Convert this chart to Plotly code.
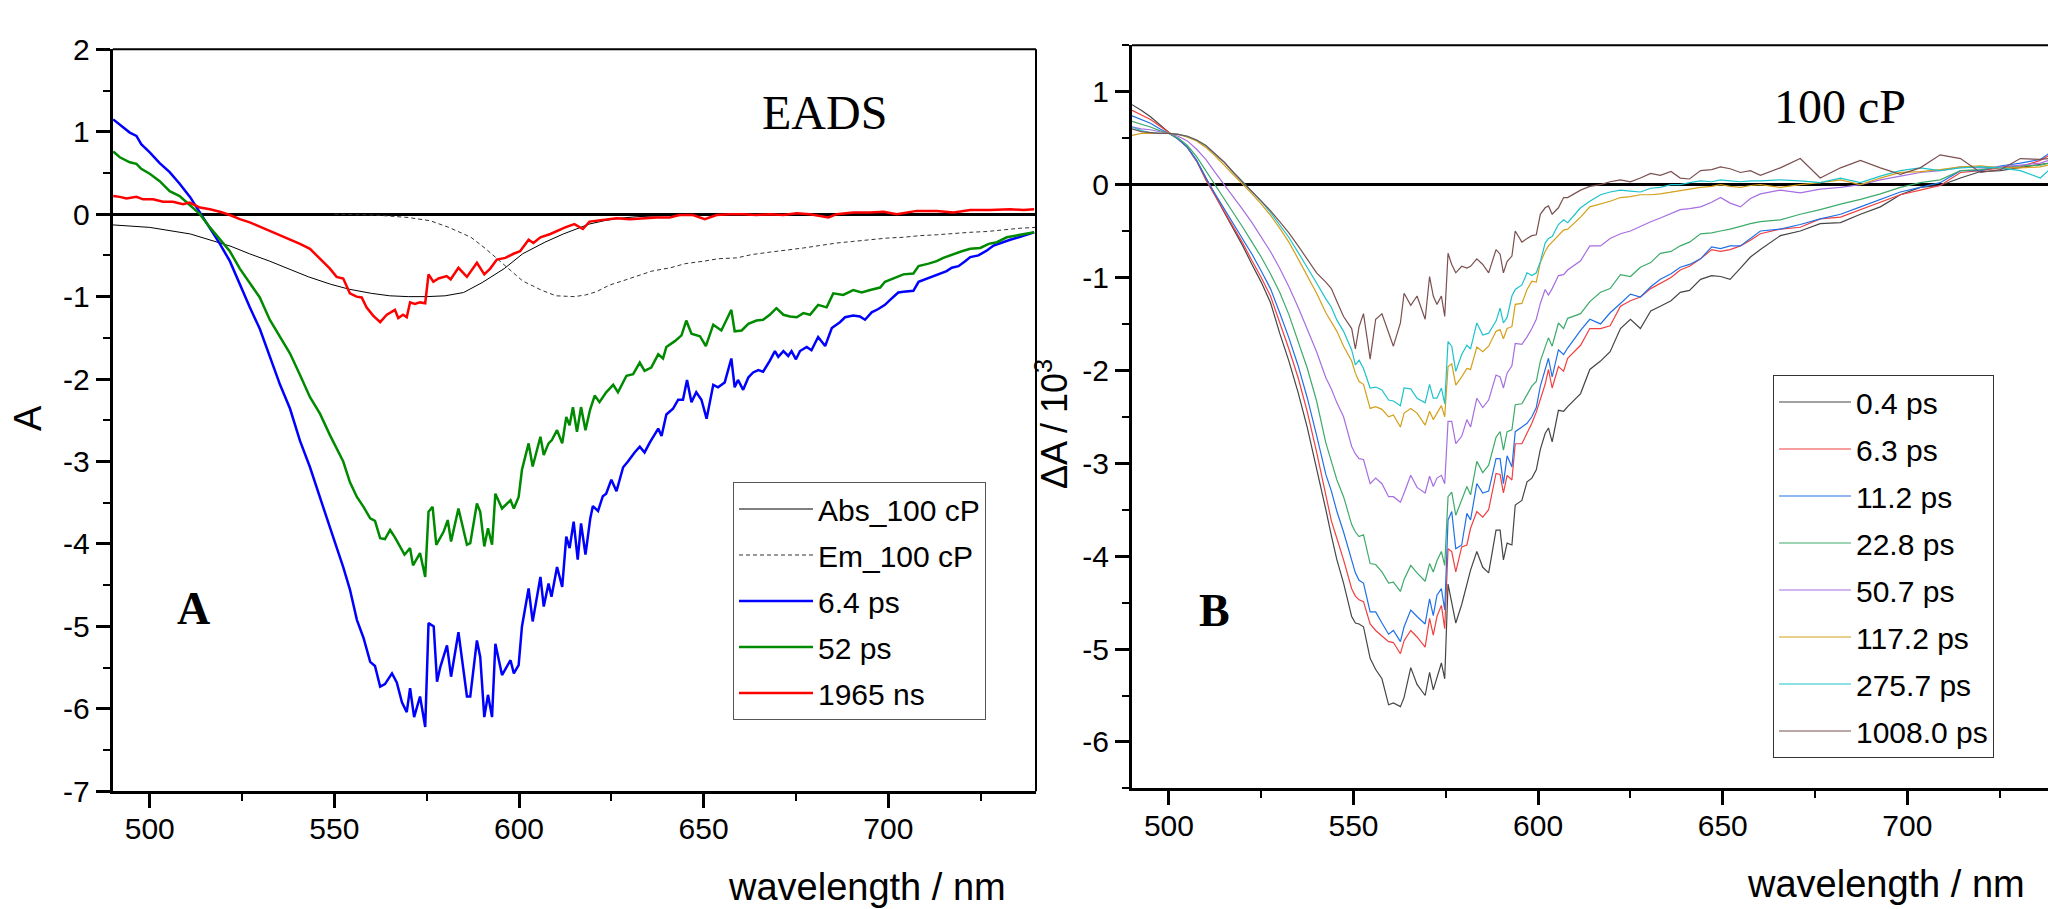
import plotly.graph_objects as go

# ---------------- Panel A (EADS) ----------------
abs_wl = [490, 500, 511, 516, 522, 527, 532.5, 538, 543, 549, 554, 560, 565, 570, 575, 580, 585, 590, 596,
          601, 607, 612, 619, 623, 627, 632, 636, 643, 650, 660, 680, 700, 720, 740]
abs_val = [-0.13, -0.16, -0.24, -0.31, -0.39, -0.48, -0.57, -0.67, -0.76, -0.85, -0.91, -0.96, -0.99, -1.0, -1.0,
           -0.99, -0.95, -0.83, -0.66, -0.48, -0.34, -0.24, -0.12, -0.08, -0.05, -0.03, -0.02, -0.01, 0, 0, 0, 0, 0, 0]

em_wl = [550, 561, 570, 576, 581, 587, 591, 596, 601, 606, 610, 615, 618, 621, 624.5, 628, 632, 636, 641, 645,
         650, 654, 659, 663, 668, 672, 677, 681.5, 686, 690.5, 695, 699.6, 704, 708.6, 713, 717.7, 722, 726.7,
         731, 735.8, 740]
em_val = [0, -0.01, -0.04, -0.08, -0.16, -0.28, -0.42, -0.61, -0.81, -0.92, -0.99, -1.0, -0.98, -0.94, -0.86,
          -0.81, -0.75, -0.69, -0.65, -0.60, -0.57, -0.54, -0.53, -0.49, -0.46, -0.44, -0.41, -0.38, -0.35, -0.33,
          -0.31, -0.29, -0.28, -0.26, -0.25, -0.23, -0.22, -0.21, -0.19, -0.17, -0.16]

ps64_wl = [490.1, 492.8, 494.6, 496.4, 497.7, 500.0, 502.7, 505.4, 508.1, 510.9, 513.6, 516.3, 519.0, 521.7,
           524.4, 527.1, 529.8, 532.5, 535.3, 538.0, 540.7, 543.4, 546.1, 548.8,
           552.4, 554.2, 556.1, 557.9, 559.7, 561.0, 562.4, 563.7, 565.6, 566.9, 568.3, 569.6, 570.5, 571.6,
           573.2, 574.6, 575.5, 576.9, 577.8, 578.7, 580.5, 581.6, 583.6, 585.9, 586.8, 588.6, 589.5, 590.6,
           591.6, 592.7, 593.6, 595.4, 597.7, 598.6, 599.9, 600.8, 602.6, 603.7, 605.8, 606.7, 608.0, 608.8,
           610.3, 611.7, 612.8, 613.7, 614.8, 615.9, 616.8, 618.0, 619.3,
           620.0, 621.4, 622.7, 623.6, 625.0, 626.4, 628.2, 629.5, 631.3, 632.7, 634.0, 635.4, 637.7, 638.6,
           639.9, 641.7, 643.1, 644.4, 645.5, 646.7, 648.0, 649.4, 650.8, 652.6, 653.9, 655.7, 657.5, 658.4,
           659.3, 660.7, 662.1, 663.4, 664.8, 666.1, 667.9, 669.3, 670.2, 671.6, 672.9, 673.8, 675.0, 676.1,
           677.9, 679.2, 681.0, 682.9, 684.7, 686.9, 688.3, 690.5, 692.3, 693.7, 695.5, 697.3, 699.1, 700.5,
           702.7, 704.1, 706.8, 708.2, 710.4, 713.1, 715.8, 717.2, 719.0, 720.8, 722.2, 724.4, 726.7, 728.5,
           730.8, 733.0, 735.3, 737.5, 739.5]
ps64_val = [1.15, 1.05, 0.99, 0.95, 0.85, 0.75, 0.62, 0.51, 0.37, 0.21, 0.02, -0.16, -0.36, -0.57,
            -0.86, -1.13, -1.39, -1.72, -2.07, -2.36, -2.75, -3.07, -3.45, -3.80,
            -4.28, -4.55, -4.92, -5.14, -5.43, -5.48, -5.73, -5.70, -5.57, -5.68, -5.92, -6.04, -5.75, -6.10,
            -5.85, -6.22, -4.96, -5.00, -5.67, -5.49, -5.23, -5.61, -5.07, -5.85, -5.85, -5.17, -5.37, -6.10,
            -5.83, -6.10, -5.21, -5.59, -5.41, -5.57, -5.47, -5.00, -4.54, -4.94, -4.40, -4.76, -4.48, -4.64,
            -4.28, -4.52, -3.91, -4.05, -3.73, -4.19, -3.75, -4.13, -3.69,
            -3.54, -3.60, -3.42, -3.39, -3.22, -3.36, -3.07, -3.00, -2.89, -2.82, -2.89, -2.77, -2.60, -2.69,
            -2.43, -2.36, -2.25, -2.25, -2.01, -2.28, -2.16, -2.25, -2.48, -2.07, -2.10, -2.04, -1.75, -2.10,
            -2.01, -2.13, -1.98, -1.92, -1.89, -1.91, -1.78, -1.66, -1.73, -1.66, -1.72, -1.66, -1.76, -1.66,
            -1.61, -1.65, -1.49, -1.60, -1.38, -1.31, -1.25, -1.23, -1.24, -1.28, -1.19, -1.15, -1.10, -1.04,
            -0.95, -0.94, -0.93, -0.82, -0.78, -0.73, -0.69, -0.65, -0.63, -0.57, -0.52, -0.50, -0.44, -0.38,
            -0.34, -0.31, -0.28, -0.25, -0.22]

ps52_wl = [490.1, 491.9, 494.6, 496.4, 497.7, 500.0, 502.7, 505.4, 508.1, 510.9, 513.6, 516.3, 519.0, 521.7,
           524.4, 527.1, 529.8, 532.5, 535.3, 538.0, 540.7, 543.4, 546.1, 548.8,
           552.4, 554.2, 556.1, 557.9, 559.7, 561.0, 562.4, 563.7, 565.1, 566.4, 569.0, 570.5, 571.3, 573.2,
           574.6, 575.5, 576.6, 577.6, 579.6, 580.7, 581.6, 583.6, 585.9, 586.8, 588.6, 589.5, 590.6, 591.6,
           592.7, 593.6, 595.4, 597.7, 598.6, 599.9, 600.8, 602.6, 603.7, 605.8, 606.7, 608.0, 608.9, 610.3,
           611.7, 612.8, 613.7, 614.6, 615.7, 616.8, 618.0, 619.2,
           620.5, 621.8, 623.6, 625.5, 626.8, 629.1, 630.9, 632.7, 634.0, 635.8, 637.7, 639.0, 639.9, 642.2,
           644.0, 645.3, 646.7, 649.0, 650.6, 652.6, 654.8, 656.2, 657.5, 658.4, 660.3, 662.1, 664.3, 666.1,
           667.9, 669.7, 671.6, 673.4, 675.2, 677.0, 678.8, 681.0, 683.3, 685.1, 687.8, 690.5, 692.8, 695.1,
           697.8, 699.1, 701.4, 704.1, 706.8, 708.2, 710.9, 713.1, 714.9, 717.7, 719.9, 722.2, 724.9, 727.2,
           729.4, 732.1, 734.8, 737.5, 739.5]
ps52_val = [0.76, 0.69, 0.63, 0.61, 0.55, 0.49, 0.40, 0.28, 0.22, 0.11, 0.00, -0.16, -0.31, -0.45,
            -0.66, -0.83, -1.01, -1.28, -1.48, -1.69, -1.95, -2.22, -2.42, -2.68,
            -3.00, -3.25, -3.43, -3.55, -3.69, -3.72, -3.93, -3.94, -3.83, -3.92, -4.13, -4.05, -4.26, -4.11,
            -4.40, -3.61, -3.55, -4.01, -3.85, -3.71, -3.97, -3.57, -4.01, -3.99, -3.51, -3.61, -4.03, -3.81,
            -4.01, -3.39, -3.57, -3.47, -3.57, -3.43, -3.10, -2.78, -3.06, -2.70, -2.92, -2.78, -2.74, -2.62,
            -2.78, -2.46, -2.56, -2.34, -2.64, -2.34, -2.62, -2.38,
            -2.20, -2.28, -2.16, -2.07, -2.16, -1.96, -1.94, -1.80, -1.90, -1.86, -1.70, -1.75, -1.61, -1.54,
            -1.47, -1.29, -1.45, -1.48, -1.60, -1.34, -1.41, -1.28, -1.16, -1.42, -1.41, -1.33, -1.29, -1.28,
            -1.22, -1.14, -1.22, -1.24, -1.25, -1.20, -1.22, -1.10, -1.13, -0.96, -0.98, -0.92, -0.95, -0.92,
            -0.89, -0.82, -0.78, -0.73, -0.72, -0.63, -0.60, -0.57, -0.53, -0.48, -0.45, -0.42, -0.41, -0.36,
            -0.34, -0.28, -0.26, -0.24, -0.22]

ns1965_wl = [490.1, 491.9, 493.7, 496.4, 498.2, 500.9, 503.6, 506.3, 509.0, 510.8, 513.6, 516.3, 519.0, 521.7,
             524.4, 527.1, 529.8, 532.5, 535.3, 538.0, 540.7, 543.4, 546.1, 548.8, 550.6, 552.4, 554.2, 556.0,
             557.4, 558.7, 560.5, 562.4, 564.2, 566.4, 567.3, 568.6, 569.6, 570.5, 571.8, 573.2, 574.6, 575.5,
             576.8, 578.2, 580.4, 581.5, 583.6, 585.9, 588.6, 590.6, 592.2, 594.0, 596.3, 598.5, 600.3, 602.6,
             603.9, 605.8, 608.5, 610.3, 612.5, 615.0, 617.3, 619.1, 622.7, 626.4, 630.0, 633.6, 637.2, 640.8,
             643.5, 647.1, 650.3, 653.5, 657.1, 660.7, 664.3, 667.9, 671.6, 675.2, 678.8, 683.8, 686.0, 690.5,
             695.1, 698.7, 702.3, 707.7, 713.1, 717.7, 722.2, 727.6, 733.0, 736.6, 739.5]
ns1965_val = [0.22, 0.21, 0.19, 0.21, 0.18, 0.18, 0.15, 0.15, 0.12, 0.14, 0.08, 0.06, 0.03, -0.01,
              -0.06, -0.10, -0.15, -0.20, -0.26, -0.31, -0.36, -0.42, -0.54, -0.66, -0.76, -0.78, -0.96, -1.00,
              -1.01, -1.13, -1.23, -1.31, -1.22, -1.16, -1.26, -1.22, -1.25, -1.07, -1.09, -1.07, -1.08, -0.73,
              -0.82, -0.78, -0.75, -0.79, -0.65, -0.76, -0.59, -0.73, -0.66, -0.55, -0.53, -0.48, -0.45, -0.31,
              -0.35, -0.28, -0.24, -0.20, -0.16, -0.12, -0.18, -0.09, -0.07, -0.05, -0.06, -0.05, -0.04, -0.04,
              -0.01, -0.01, -0.06, -0.01, 0.00, 0.00, -0.01, 0.00, -0.01, 0.01, 0.00, -0.04, 0.00, 0.02,
              0.02, 0.03, 0.00, 0.04, 0.04, 0.02, 0.05, 0.05, 0.06, 0.05, 0.06]

# ---------------- Panel B (100 cP) ----------------
wl_b = [490, 492.5, 495, 497.5, 500, 502.5, 505, 507.5, 510, 512.5, 515, 517.5, 520, 522.5, 525, 527.5, 530,
        532.5, 535, 537.5, 540, 542.5,
        544, 545.5, 547.3, 549.5, 550.5, 551.5, 552.7, 554.5, 556, 557.7, 559.5, 560.8, 562.7, 563.7, 565.5,
        567.2, 569.4, 570.6, 571.6, 572.6, 573.8, 574.7, 575.6, 576.6, 577.7, 579.3, 580.7, 581.7, 583.4, 585,
        586.6, 588.6, 589.7, 590.6, 591.6, 592.9, 593.8, 595.6, 597, 598.3, 599.5, 600.6, 601.9, 602.8, 603.8,
        605.5, 606.9, 608,
        611.5, 614, 616.9, 619.5, 622.3, 625, 627.7, 630.5, 633.1, 636, 638.5, 641, 644, 647, 649.4, 652, 654.8,
        657.5, 660.2, 665.6, 671, 676.4, 681.9, 687.3, 692.7, 698.1, 703.5, 708.9, 714.4, 719.8, 725.2, 730.6,
        736, 738.2]

t_0p4 = [0.86, 0.80, 0.73, 0.64, 0.56, 0.49, 0.40, 0.26, 0.07, -0.12, -0.30, -0.48, -0.66, -0.86, -1.05, -1.27,
         -1.60, -1.90, -2.24, -2.62, -3.05, -3.50,
         -3.78, -4.04, -4.29, -4.65, -4.72, -4.73, -4.76, -5.10, -5.22, -5.32, -5.60, -5.58, -5.62, -5.52, -5.20,
         -5.38, -5.50, -5.25, -5.44, -5.30, -5.15, -5.32, -4.30, -4.50, -4.72, -4.52, -4.29, -4.15, -3.95, -4.12,
         -4.18, -3.72, -3.72, -4.04, -3.86, -3.88, -3.45, -3.40, -3.20, -3.16, -3.07, -2.85, -2.68, -2.62, -2.77,
         -2.43, -2.44, -2.39,
         -2.25, -1.99, -1.90, -1.80, -1.55, -1.45, -1.55, -1.36, -1.31, -1.25, -1.16, -1.14, -1.02, -0.98, -0.99,
         -1.02, -0.90, -0.78, -0.70, -0.55, -0.50, -0.42, -0.41, -0.32, -0.24, -0.11, -0.03, -0.01, 0.07, 0.14,
         0.15, 0.18, 0.21, 0.23]
t_6p3 = [0.80, 0.75, 0.70, 0.63, 0.56, 0.49, 0.40, 0.25, 0.05, -0.12, -0.29, -0.46, -0.63, -0.82, -1.00, -1.20,
         -1.48, -1.77, -2.08, -2.45, -2.88, -3.35,
         -3.62, -3.81, -4.04, -4.35, -4.43, -4.47, -4.49, -4.73, -4.80, -4.86, -4.92, -4.93, -5.05, -4.91, -4.80,
         -4.87, -4.98, -4.67, -4.85, -4.65, -4.53, -4.78, -3.92, -3.95, -4.17, -3.90, -3.88, -3.70, -3.52, -3.58,
         -3.50, -3.11, -3.12, -3.32, -3.13, -3.18, -2.79, -2.79, -2.68, -2.57, -2.45, -2.32, -2.15, -1.99, -2.19,
         -1.96, -2.01, -1.87,
         -1.73, -1.55, -1.55, -1.52, -1.31, -1.25, -1.21, -1.12, -1.06, -1.00, -0.92, -0.88, -0.80, -0.70, -0.72,
         -0.70, -0.66, -0.60, -0.53, -0.48, -0.46, -0.37, -0.35, -0.27, -0.19, -0.11, -0.06, -0.01, 0.13, 0.15,
         0.18, 0.19, 0.26, 0.31]
t_11p2 = [0.74, 0.70, 0.66, 0.60, 0.55, 0.49, 0.40, 0.26, 0.07, -0.10, -0.26, -0.42, -0.58, -0.75, -0.93, -1.12,
          -1.38, -1.65, -1.95, -2.30, -2.70, -3.12,
          -3.30, -3.52, -3.74, -4.06, -4.18, -4.26, -4.29, -4.60, -4.60, -4.72, -4.84, -4.80, -4.92, -4.76, -4.58,
          -4.65, -4.73, -4.46, -4.64, -4.42, -4.35, -4.58, -3.61, -3.52, -3.92, -3.88, -3.54, -3.61, -3.22, -3.32,
          -3.30, -2.95, -2.95, -3.22, -2.92, -3.04, -2.66, -2.61, -2.57, -2.50, -2.40, -2.17, -2.00, -1.87, -2.07,
          -1.78, -1.83, -1.76,
          -1.57, -1.45, -1.50, -1.38, -1.28, -1.18, -1.21, -1.10, -1.02, -0.96, -0.89, -0.86, -0.80, -0.67, -0.69,
          -0.66, -0.66, -0.58, -0.50, -0.48, -0.43, -0.37, -0.32, -0.24, -0.16, -0.08, -0.03, 0.02, 0.15, 0.15,
          0.20, 0.23, 0.27, 0.33]
t_22p8 = [0.68, 0.65, 0.62, 0.58, 0.55, 0.50, 0.42, 0.30, 0.15, -0.01, -0.16, -0.31, -0.46, -0.62, -0.78, -0.96,
          -1.16, -1.40, -1.68, -1.98, -2.33, -2.78,
          -2.98, -3.18, -3.36, -3.66, -3.74, -3.79, -3.77, -4.08, -4.09, -4.17, -4.29, -4.28, -4.38, -4.25, -4.10,
          -4.18, -4.27, -4.08, -4.17, -4.05, -3.95, -4.10, -3.36, -3.31, -3.56, -3.40, -3.25, -3.34, -2.98, -3.10,
          -3.02, -2.72, -2.66, -2.86, -2.66, -2.64, -2.37, -2.36, -2.26, -2.17, -2.12, -1.90, -1.75, -1.65, -1.74,
          -1.49, -1.55, -1.44,
          -1.39, -1.26, -1.16, -1.12, -0.97, -0.99, -0.89, -0.84, -0.74, -0.72, -0.66, -0.62, -0.53, -0.52, -0.50,
          -0.48, -0.45, -0.42, -0.40, -0.38, -0.32, -0.27, -0.21, -0.16, -0.10, -0.03, 0.02, 0.05, 0.15, 0.16,
          0.19, 0.20, 0.21, 0.23]
t_50p7 = [0.62, 0.60, 0.59, 0.57, 0.55, 0.52, 0.47, 0.38, 0.27, 0.13, 0.00, -0.13, -0.27, -0.41, -0.56, -0.72,
          -0.90, -1.10, -1.32, -1.55, -1.80, -2.08,
          -2.20, -2.35, -2.50, -2.82, -2.90, -2.95, -2.96, -3.22, -3.16, -3.22, -3.36, -3.36, -3.42, -3.32, -3.13,
          -3.26, -3.32, -3.14, -3.25, -3.16, -3.13, -3.22, -2.55, -2.55, -2.79, -2.71, -2.53, -2.61, -2.30, -2.40,
          -2.32, -2.05, -2.07, -2.19, -2.03, -1.95, -1.71, -1.72, -1.64, -1.55, -1.45, -1.28, -1.13, -1.19, -1.12,
          -0.98, -0.97, -0.92,
          -0.82, -0.66, -0.66, -0.58, -0.53, -0.50, -0.45, -0.40, -0.36, -0.31, -0.27, -0.26, -0.24, -0.19, -0.14,
          -0.20, -0.24, -0.15, -0.10, -0.06, -0.09, -0.05, -0.03, 0.00, 0.05, 0.09, 0.13, 0.15, 0.19, 0.18,
          0.19, 0.21, 0.23, 0.26]
t_117p2 = [0.53, 0.55, 0.55, 0.55, 0.55, 0.54, 0.51, 0.47, 0.40, 0.31, 0.21, 0.10, 0.00, -0.10, -0.21, -0.33,
           -0.47, -0.62, -0.80, -0.98, -1.17, -1.38,
           -1.48, -1.58, -1.74, -1.90, -2.03, -2.12, -2.15, -2.41, -2.39, -2.42, -2.50, -2.48, -2.61, -2.46, -2.41,
           -2.46, -2.59, -2.44, -2.53, -2.46, -2.38, -2.50, -1.96, -1.93, -2.16, -2.07, -1.98, -1.99, -1.75, -1.80,
           -1.74, -1.58, -1.56, -1.66, -1.55, -1.53, -1.29, -1.28, -1.13, -1.04, -1.05, -0.84, -0.72, -0.66, -0.62,
           -0.55, -0.49, -0.48,
           -0.35, -0.24, -0.21, -0.18, -0.14, -0.13, -0.11, -0.11, -0.10, -0.08, -0.06, -0.05, -0.03, -0.02, 0.00,
           -0.02, -0.03, -0.01, 0.00, -0.03, 0.00, 0.02, 0.05, 0.00, 0.07, 0.13, 0.14, 0.16, 0.19, 0.20,
           0.18, 0.18, 0.19, 0.21]
t_275p7 = [0.62, 0.58, 0.56, 0.55, 0.55, 0.54, 0.52, 0.48, 0.42, 0.33, 0.24, 0.13, 0.03, -0.07, -0.18, -0.30,
           -0.43, -0.57, -0.73, -0.89, -1.06, -1.23,
           -1.32, -1.46, -1.58, -1.78, -1.94, -1.89, -1.98, -2.19, -2.18, -2.21, -2.32, -2.33, -2.38, -2.19, -2.20,
           -2.30, -2.35, -2.15, -2.30, -2.30, -2.19, -2.36, -1.69, -1.74, -2.01, -1.83, -1.73, -1.77, -1.49, -1.62,
           -1.60, -1.47, -1.33, -1.49, -1.43, -1.20, -1.13, -1.08, -0.95, -0.98, -0.95, -0.83, -0.63, -0.58, -0.56,
           -0.43, -0.38, -0.41,
           -0.25, -0.18, -0.11, -0.08, -0.06, -0.07, -0.08, -0.04, -0.03, 0.00, 0.00, 0.02, 0.04, 0.03, 0.05,
           0.04, 0.03, 0.04, 0.04, 0.05, 0.04, 0.02, 0.07, 0.02, 0.09, 0.15, 0.18, 0.15, 0.18, 0.19,
           0.18, 0.15, 0.07, 0.15]
t_1008 = [0.60, 0.57, 0.56, 0.55, 0.55, 0.54, 0.52, 0.48, 0.42, 0.33, 0.24, 0.13, 0.03, -0.07, -0.17, -0.28,
          -0.40, -0.52, -0.66, -0.80, -0.95, -1.05,
          -1.12, -1.26, -1.42, -1.55, -1.77, -1.53, -1.39, -1.88, -1.45, -1.39, -1.60, -1.74, -1.49, -1.17, -1.30,
          -1.20, -1.45, -0.99, -1.20, -1.29, -1.20, -1.42, -0.74, -0.86, -0.95, -0.88, -0.90, -0.88, -0.80, -0.86,
          -0.95, -0.70, -0.75, -0.95, -0.83, -0.77, -0.50, -0.62, -0.58, -0.55, -0.54, -0.32, -0.25, -0.23, -0.32,
          -0.25, -0.14, -0.14,
          -0.06, -0.02, 0.00, 0.03, 0.05, 0.03, 0.07, 0.12, 0.10, 0.14, 0.07, 0.06, 0.15, 0.16, 0.19,
          0.17, 0.13, 0.15, 0.10, 0.18, 0.28, 0.07, 0.18, 0.26, 0.18, 0.11, 0.18, 0.32, 0.28, 0.13,
          0.16, 0.28, 0.27, 0.28]

names_b = ["0.4 ps", "6.3 ps", "11.2 ps", "22.8 ps", "50.7 ps", "117.2 ps", "275.7 ps", "1008.0 ps"]
colors_b = ["#454545", "#F23F3F", "#2070E8", "#3DAA6A", "#A66EE0", "#D4A01A", "#1CC3CC", "#7B5050"]
series_b = [t_0p4, t_6p3, t_11p2, t_22p8, t_50p7, t_117p2, t_275p7, t_1008]

# tick labels
xtick_vals = [500, 550, 600, 650, 700]
xtick_text = ["500", "550", "600", "650", "700"]
ya_vals = [2, 1, 0, -1, -2, -3, -4, -5, -6, -7]
ya_text = ["2", "1", "0", "-1", "-2", "-3", "-4", "-5", "-6", "-7"]
yb_vals = [1, 0, -1, -2, -3, -4, -5, -6]
yb_text = ["1", "0", "-1", "-2", "-3", "-4", "-5", "-6"]

for s in series_b:
    assert len(s) == len(wl_b), len(s)
assert len(ps64_wl) == len(ps64_val)
assert len(ps52_wl) == len(ps52_val)
assert len(ns1965_wl) == len(ns1965_val)
assert len(abs_wl) == len(abs_val)
assert len(em_wl) == len(em_val)

SANS = "Liberation Sans, Arial, sans-serif"
SERIF = "Liberation Serif, Times New Roman, serif"

fig = go.Figure()
left_traces = [
    ("Abs_100 cP", abs_wl, abs_val, dict(color="black", width=1)),
    ("Em_100 cP", em_wl, em_val, dict(color="#333333", width=1, dash="4px,3px")),
    ("6.4 ps", ps64_wl, ps64_val, dict(color="#0000FF", width=2.5)),
    ("52 ps", ps52_wl, ps52_val, dict(color="#008A00", width=2.5)),
    ("1965 ns", ns1965_wl, ns1965_val, dict(color="#FF0000", width=2.5)),
]
for nm, xs, ys, ln in left_traces:
    fig.add_trace(go.Scatter(x=xs, y=ys, mode="lines", name=nm, line=ln, xaxis="x", yaxis="y",
                             legend="legend", legendgroup="A_" + nm))

for nm, col, vals in zip(names_b, colors_b, series_b):
    fig.add_trace(go.Scatter(x=wl_b, y=vals, mode="lines", name=nm,
                             line=dict(color=col, width=1.2), xaxis="x2", yaxis="y2", legend="legend2",
                             legendgroup="B_" + nm))

W, H = 2048, 909
axis_common = dict(showline=True, linecolor="black", linewidth=3, ticks="outside", ticklen=14,
                   tickwidth=2.5, tickcolor="black", showgrid=False, automargin=False,
                   tickfont=dict(family=SANS, size=30, color="black"))
minor_x = dict(dtick=25, tick0=500, ticklen=7, tickwidth=2, ticks="outside", tickcolor="black")
minor_y = dict(dtick=0.5, tick0=0, ticklen=7, tickwidth=2, ticks="outside", tickcolor="black")

fig.update_layout(
    width=W, height=H,
    margin=dict(l=0, r=0, t=0, b=0, pad=0, autoexpand=False),
    paper_bgcolor="white", plot_bgcolor="white",
    showlegend=True,
    xaxis=dict(domain=[112.8 / W, 1036 / W], range=[490, 740], anchor="y", zeroline=False,
               tickmode="array", tickvals=xtick_vals, ticktext=xtick_text, minor=minor_x,
               ticklabelstandoff=-5, **axis_common),
    yaxis=dict(domain=[1 - 791.3 / H, 1 - 49.3 / H], range=[-7, 2], anchor="x",
               zeroline=True, zerolinecolor="black", zerolinewidth=3,
               tickmode="array", tickvals=ya_vals, ticktext=ya_text, minor=minor_y, **axis_common),
    xaxis2=dict(domain=[1132 / W, 1.0], range=[490, 738.1], anchor="y2", zeroline=False,
                tickmode="array", tickvals=xtick_vals, ticktext=xtick_text, minor=minor_x,
                ticklabelstandoff=-5, **axis_common),
    yaxis2=dict(domain=[1 - 788.4 / H, 1 - 45.2 / H], range=[-6.5, 1.5], anchor="x2",
                zeroline=True, zerolinecolor="black", zerolinewidth=3,
                tickmode="array", tickvals=yb_vals, ticktext=yb_text, minor=minor_y, **axis_common),
    legend=dict(x=733 / W, y=1 - 482 / H, xanchor="left", yanchor="top",
                bgcolor="white", bordercolor="#555555", borderwidth=1,
                font=dict(family=SANS, size=30, color="black"), itemwidth=74, tracegroupgap=4,
                traceorder="grouped"),
    legend2=dict(x=1773 / W, y=1 - 375 / H, xanchor="left", yanchor="top",
                 bgcolor="white", bordercolor="#333333", borderwidth=1,
                 font=dict(family=SANS, size=30, color="black"), itemwidth=72, tracegroupgap=5,
                 traceorder="grouped"),
    shapes=[
        dict(type="line", xref="x domain", yref="y domain", x0=0, x1=1, y0=1, y1=1,
             line=dict(color="black", width=2)),
        dict(type="line", xref="x domain", yref="y domain", x0=1, x1=1, y0=0, y1=1,
             line=dict(color="black", width=2)),
        dict(type="line", xref="x2 domain", yref="y2 domain", x0=0, x1=1, y0=1, y1=1,
             line=dict(color="black", width=2)),
    ],
    annotations=[
        dict(text="EADS", x=824 / W, y=1 - 113 / H, xref="paper", yref="paper", showarrow=False,
             xanchor="center", yanchor="middle", font=dict(family=SERIF, size=48, color="black")),
        dict(text="<b>A</b>", x=193 / W, y=1 - 608 / H, xref="paper", yref="paper", showarrow=False,
             xanchor="center", yanchor="middle", font=dict(family=SERIF, size=46, color="black")),
        dict(text="100 cP", x=1840 / W, y=1 - 106 / H, xref="paper", yref="paper", showarrow=False,
             xanchor="center", yanchor="middle", font=dict(family=SERIF, size=48, color="black")),
        dict(text="<b>B</b>", x=1214 / W, y=1 - 610 / H, xref="paper", yref="paper", showarrow=False,
             xanchor="center", yanchor="middle", font=dict(family=SERIF, size=46, color="black")),
        dict(text="wavelength / nm", x=1008 / W, y=1 - 887 / H, xref="paper", yref="paper", showarrow=False,
             xanchor="right", yanchor="middle", font=dict(family=SANS, size=38, color="black")),
        dict(text="wavelength / nm", x=2027 / W, y=1 - 884 / H, xref="paper", yref="paper", showarrow=False,
             xanchor="right", yanchor="middle", font=dict(family=SANS, size=38, color="black")),
        dict(text="A", x=28 / W, y=1 - 418 / H, xref="paper", yref="paper", showarrow=False, textangle=-90,
             xanchor="center", yanchor="middle", font=dict(family=SANS, size=38, color="black")),
        dict(text="ΔA / 10<sup>3</sup>", x=1052 / W, y=1 - 424 / H, xref="paper", yref="paper",
             showarrow=False, textangle=-90,
             xanchor="center", yanchor="middle", font=dict(family=SANS, size=36, color="black")),
    ],
)

fig.write_html("out.html", config={"displayModeBar": False},
               post_script="document.body.style.margin='0';document.body.style.overflow='hidden';")
